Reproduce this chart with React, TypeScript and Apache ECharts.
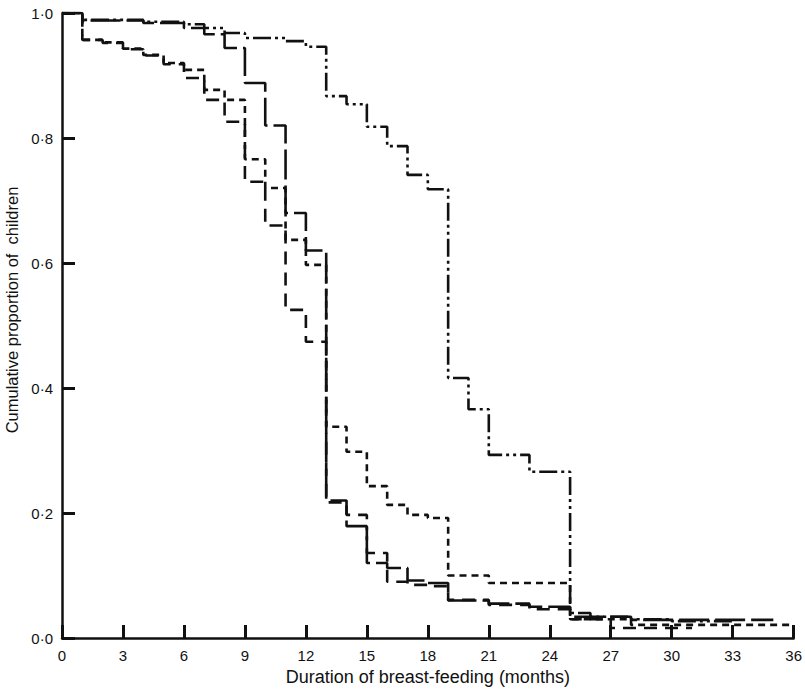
import React, { useEffect, useRef } from "react";
import * as echarts from "echarts";

// Months (x) and cumulative proportions (y) for each Kaplan–Meier style curve
const monthsA = [0, 1, 4, 6, 7, 8, 9, 11, 12, 13, 14, 15, 16, 17, 18, 19, 20, 21, 23, 25, 26, 28, 30, 33];
const valuesA = [1, 0.989, 0.986, 0.982, 0.976, 0.968, 0.96, 0.955, 0.946, 0.867, 0.854, 0.818, 0.787, 0.741, 0.718, 0.416, 0.366, 0.293, 0.266, 0.04, 0.034, 0.03, 0.027, 0.025];

const monthsB = [0, 1, 4, 6, 7, 8, 9, 10, 11, 12, 13, 14, 15, 16, 17, 18, 19, 21, 23, 25, 28, 35];
const valuesB = [1, 0.988, 0.984, 0.976, 0.966, 0.944, 0.888, 0.82, 0.68, 0.62, 0.22, 0.179, 0.12, 0.112, 0.092, 0.088, 0.06, 0.055, 0.05, 0.034, 0.029, 0.029];

const monthsC = [0, 1, 2, 3, 4, 5, 6, 7, 8, 9, 10, 11, 12, 13, 14, 15, 16, 17, 18, 19, 21, 25, 28, 36];
const valuesC = [1, 0.957, 0.953, 0.943, 0.933, 0.92, 0.909, 0.877, 0.861, 0.766, 0.72, 0.637, 0.597, 0.338, 0.298, 0.243, 0.213, 0.197, 0.192, 0.1, 0.088, 0.03, 0.021, 0.021];

const monthsD = [0, 1, 2, 3, 4, 5, 6, 7, 8, 9, 10, 11, 12, 13, 14, 15, 16, 17, 18, 19, 21, 23, 25, 27, 31];
const valuesD = [1, 0.957, 0.952, 0.942, 0.932, 0.918, 0.896, 0.861, 0.826, 0.73, 0.66, 0.525, 0.474, 0.217, 0.197, 0.136, 0.09, 0.085, 0.083, 0.061, 0.053, 0.046, 0.03, 0.016, 0.016];

const xTicks = [0, 3, 6, 9, 12, 15, 18, 21, 24, 27, 30, 33, 36];
const yTicks = [0, 0.2, 0.4, 0.6, 0.8, 1.0];

const xTitle = "Duration of breast-feeding (months)";
const yTitle = "Cumulative proportion of  children";

const pairs = (xs: number[], ys: number[]) => xs.map((x, i) => [x, ys[i]]);

export default function App() {
  const ref = useRef<HTMLDivElement>(null);
  useEffect(() => {
    if (!ref.current) return;
    const chart = echarts.init(ref.current, null, { renderer: "svg" });
    const font = "'Liberation Sans', Arial, Helvetica, sans-serif";
    const mk = (data: number[][], dash: number[]) => ({
      type: "line",
      step: "end",
      data,
      showSymbol: false,
      symbol: "none",
      lineStyle: { color: "#111", width: 2.6, type: dash, cap: "butt" },
      z: 3,
    });
    chart.setOption({
      animation: false,
      backgroundColor: "#fff",
      grid: { left: 62, right: 10, top: 13, bottom: 53, containLabel: false },
      xAxis: {
        type: "value",
        min: 0,
        max: 36,
        interval: 3,
        name: xTitle,
        nameLocation: "middle",
        nameGap: 25,
        nameTextStyle: { color: "#111", fontSize: 18, fontFamily: font },
        axisLine: { show: true, lineStyle: { color: "#111", width: 2.5 } },
        axisTick: { show: true, inside: true, length: 13, lineStyle: { color: "#111", width: 3 } },
        axisLabel: {
          color: "#111",
          fontSize: 15,
          fontFamily: font,
          margin: 10,
          formatter: (v: number) => (xTicks.includes(v) ? String(v) : ""),
        },
        splitLine: { show: false },
      },
      yAxis: {
        type: "value",
        min: 0,
        max: 1,
        interval: 0.2,
        axisLine: { show: true, lineStyle: { color: "#111", width: 2.5 } },
        axisTick: { show: true, inside: true, length: 13, lineStyle: { color: "#111", width: 3 } },
        axisLabel: {
          color: "#111",
          fontSize: 15,
          fontFamily: font,
          margin: 9,
          formatter: (v: number) => {
            const t = yTicks.find((y) => Math.abs(y - v) < 1e-6);
            return t === undefined ? "" : t.toFixed(1).replace(".", "·");
          },
        },
        splitLine: { show: false },
      },
      graphic: [
        {
          type: "text",
          x: 12,
          y: 310,
          rotation: Math.PI / 2,
          style: {
            text: yTitle,
            fill: "#111",
            fontSize: 16.5,
            fontFamily: font,
            textAlign: "center",
            textVerticalAlign: "middle",
          },
        },
      ],
      series: [
        mk(pairs(monthsA, valuesA), [18, 4, 3, 4, 3, 4]),
        mk(pairs(monthsB, valuesB), [30, 6]),
        mk(pairs(monthsC, valuesC), [7, 5]),
        mk(pairs(monthsD, valuesD), [13, 8]),
      ],
    });
    return () => chart.dispose();
  }, []);
  return <div ref={ref} style={{ width: 805, height: 691, position: "absolute", left: 0, top: 0 }} />;
}
